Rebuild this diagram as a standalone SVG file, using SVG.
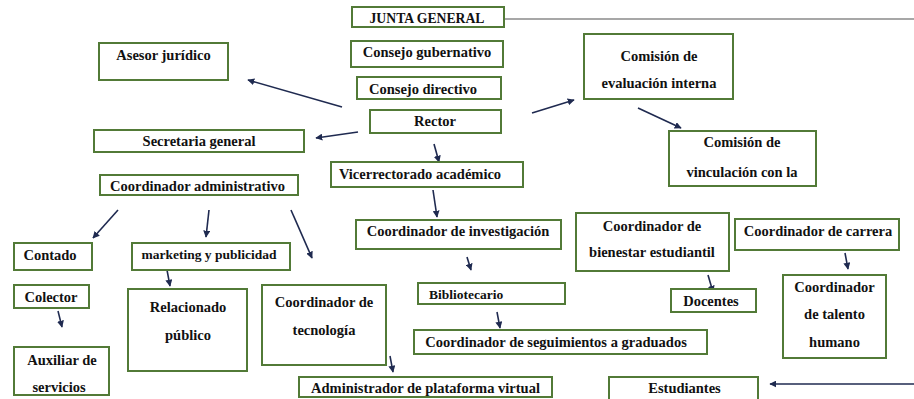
<svg xmlns="http://www.w3.org/2000/svg" width="914" height="399" viewBox="0 0 914 399">
<defs>
<marker id="ah" viewBox="0 0 10 10" refX="9" refY="5" markerWidth="7" markerHeight="7" markerUnits="userSpaceOnUse" orient="auto">
<path d="M0,0 L10,5 L0,10 z" fill="#1f2a50"/>
</marker>
<style>
.box{fill:#fff;stroke:#527a37;stroke-width:2}
.t{font-family:"Liberation Serif","Times New Roman",serif;font-weight:bold;font-size:14.5px;fill:#111;text-anchor:middle}
.c{stroke:#1f2a50;stroke-width:1.6;fill:none;marker-end:url(#ah)}
</style>
</defs>
<rect width="914" height="399" fill="#fff"/>
<g id="connectors">
<line x1="504" y1="19" x2="914" y2="19" stroke="#8a8a8a" stroke-width="1.5"/>
<line class="c" x1="342" y1="107" x2="248" y2="80"/>
<line class="c" x1="358" y1="132" x2="316" y2="138"/>
<line class="c" x1="434" y1="144" x2="439" y2="162"/>
<line class="c" x1="532" y1="113" x2="574" y2="100"/>
<line class="c" x1="638" y1="108" x2="681" y2="128"/>
<line class="c" x1="118" y1="210" x2="93" y2="238"/>
<line class="c" x1="209" y1="210" x2="206" y2="237"/>
<line class="c" x1="291" y1="210" x2="312" y2="258"/>
<line class="c" x1="58" y1="311" x2="62" y2="327"/>
<line class="c" x1="167" y1="270" x2="170" y2="286"/>
<line class="c" x1="390" y1="356" x2="393" y2="372"/>
<line class="c" x1="433" y1="190" x2="437" y2="217"/>
<line class="c" x1="467" y1="257" x2="471" y2="270"/>
<line class="c" x1="497" y1="312" x2="500" y2="328"/>
<line class="c" x1="708" y1="275" x2="713" y2="292"/>
<line class="c" x1="845" y1="253" x2="848" y2="269"/>
<line class="c" x1="914" y1="384" x2="770" y2="384"/>
</g>
<g id="junta"><rect class="box" x="352" y="7" width="152" height="20"/><text class="t" x="427" y="23" style="font-size:13.7px">JUNTA GENERAL</text></g>
<g id="gubernativo"><rect class="box" x="351" y="41" width="152" height="26"/><text class="t" x="427" y="57">Consejo gubernativo</text></g>
<g id="directivo"><rect class="box" x="357" y="77" width="144" height="22"/><text class="t" x="423" y="93.5">Consejo directivo</text></g>
<g id="rector"><rect class="box" x="370" y="110" width="131" height="23"/><text class="t" x="435" y="125.5">Rector</text></g>
<g id="vicerrectorado"><rect class="box" x="331" y="162" width="192" height="25"/><text class="t" x="420" y="178.5">Vicerrectorado académico</text></g>
<g id="asesor"><rect class="box" x="99" y="43" width="129" height="37"/><text class="t" x="163.5" y="59.5">Asesor jurídico</text></g>
<g id="secretaria"><rect class="box" x="94" y="130" width="210" height="22"/><text class="t" x="199" y="145.5">Secretaria general</text></g>
<g id="administrativo"><rect class="box" x="100" y="175" width="198" height="20"/><text class="t" x="197.5" y="191">Coordinador administrativo</text></g>
<g id="evaluacion"><rect class="box" x="584" y="34" width="149" height="65"/><text class="t" x="659" y="60.5">Comisión de</text><text class="t" x="659" y="87.5">evaluación interna</text></g>
<g id="vinculacion"><rect class="box" x="669" y="131" width="147" height="55"/><text class="t" x="742" y="146.5">Comisión de</text><text class="t" x="742" y="176.5">vinculación con la</text></g>
<g id="contado"><rect class="box" x="14" y="243" width="78" height="27"/><text class="t" x="50" y="259.5">Contado</text></g>
<g id="marketing"><rect class="box" x="132" y="243" width="158" height="27"/><text class="t" x="209" y="259" style="font-size:13.5px">marketing y publicidad</text></g>
<g id="colector"><rect class="box" x="14" y="285" width="75" height="23"/><text class="t" x="51" y="301.5">Colector</text></g>
<g id="auxiliar"><rect class="box" x="14" y="347" width="95" height="48"/><text class="t" x="62" y="364.5">Auxiliar de</text><text class="t" x="59" y="391.5">servicios</text></g>
<g id="relacionado"><rect class="box" x="128" y="289" width="119" height="82"/><text class="t" x="188" y="311.5">Relacionado</text><text class="t" x="188" y="339.5">público</text></g>
<g id="tecnologia"><rect class="box" x="262" y="285" width="124" height="80"/><text class="t" x="324" y="306.5">Coordinador de</text><text class="t" x="324" y="334.5">tecnología</text></g>
<g id="plataforma"><rect class="box" x="299" y="377" width="253" height="20"/><text class="t" x="425.5" y="392.5">Administrador de plataforma virtual</text></g>
<g id="investigacion"><rect class="box" x="356" y="220" width="205" height="29"/><text class="t" x="458" y="235.5">Coordinador de investigación</text></g>
<g id="bibliotecario"><rect class="box" x="418" y="283" width="147" height="21"/><text class="t" x="429" y="298.5" style="text-anchor:start;font-size:13.5px">Bibliotecario</text></g>
<g id="seguimientos"><rect class="box" x="414" y="330" width="293" height="24"/><text class="t" x="556" y="346.5">Coordinador de seguimientos a graduados</text></g>
<g id="bienestar"><rect class="box" x="576" y="213" width="153" height="58"/><text class="t" x="652" y="230.5">Coordinador de</text><text class="t" x="652" y="256.5">bienestar estudiantil</text></g>
<g id="docentes"><rect class="box" x="671" y="289" width="85" height="23"/><text class="t" x="711" y="305.5">Docentes</text></g>
<g id="carrera"><rect class="box" x="735" y="219" width="164" height="31"/><text class="t" x="818" y="235.5">Coordinador de carrera</text></g>
<g id="talento"><rect class="box" x="783" y="275" width="103" height="83"/><text class="t" x="834.5" y="291.5">Coordinador</text><text class="t" x="834.5" y="318.5">de talento</text><text class="t" x="834.5" y="346.5">humano</text></g>
<g id="estudiantes"><rect class="box" x="609" y="377" width="149" height="30"/><text class="t" x="684.5" y="392.5">Estudiantes</text></g>
</svg>
